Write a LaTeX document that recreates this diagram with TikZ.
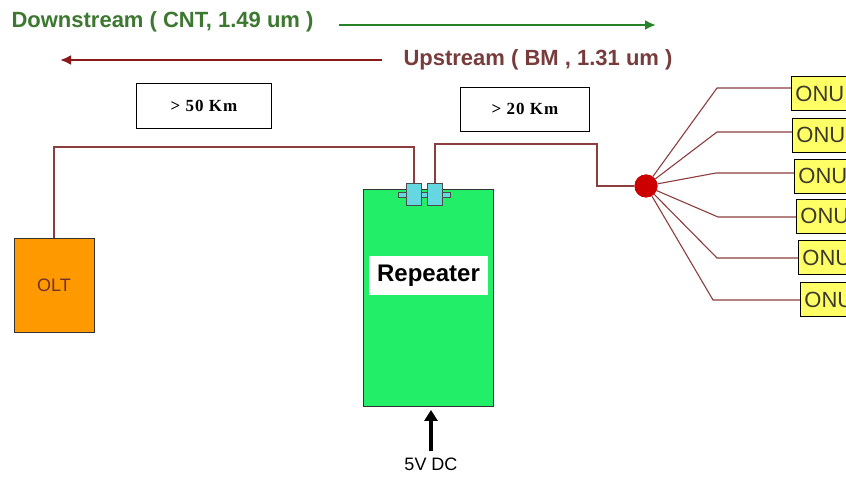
\documentclass[tikz,border=0pt]{standalone}
\usepackage{fontspec}
\setmainfont{Liberation Sans}
\newfontfamily\kmfont[LetterSpace=6]{Liberation Serif}
\usetikzlibrary{positioning,arrows.meta}

\definecolor{fibreline}{RGB}{140,62,62}
\definecolor{downgreen}{RGB}{60,120,48}
\definecolor{downarrow}{RGB}{40,130,40}
\definecolor{uptext}{RGB}{120,60,60}
\definecolor{uparrow}{RGB}{140,25,25}
\definecolor{oltorange}{RGB}{255,153,0}
\definecolor{repgreen}{RGB}{34,238,104}
\definecolor{onuyellow}{RGB}{255,255,102}
\definecolor{portcyan}{RGB}{100,215,225}

\begin{document}
\begin{tikzpicture}[x=1pt,y=-1pt,
    fibre/.style={draw=fibreline, line width=1.1pt},
    lenbox/.style={draw=black, fill=white, line width=0.9pt, font=\kmfont\bfseries\fontsize{17}{17}\selectfont},
    onu/.style={draw=black, fill=onuyellow, line width=0.9pt, anchor=west, minimum height=34,
      text width=70, inner xsep=4, align=left, font=\fontsize{22}{22}\selectfont, text=black!75!olive},
    port/.style={draw=black!70, fill=portcyan, line width=0.7pt, minimum width=15, minimum height=22, inner sep=0},
    flow/.style={line width=2.8pt, -{Latex[length=11pt,width=10pt]}}]
  \clip (0,0) rectangle (846,478);
  \fill[white] (0,0) rectangle (846,478);

  % traffic directions
  \node[anchor=west, text=downgreen, font=\bfseries\fontsize{22}{22}\selectfont] (down) at (8,22) {Downstream ( CNT, 1.49 um )};
  \coordinate (downend) at (656,25);
  \draw[flow, draw=downarrow] (down.east |- downend) ++(22,0) coordinate (downstart) -- (downend);
  \node[anchor=west, text=uptext, font=\bfseries\fontsize{22}{22}\selectfont] (up) at (400,60) {Upstream ( BM , 1.31 um )};
  \coordinate (upend) at (60,60);
  \draw[flow, draw=uparrow] ([xshift=-18]up.west) -- (upend);

  % distances
  \node[lenbox, minimum width=135, minimum height=45] (km50) at (204,106) {> 50 Km};
  \node[lenbox, minimum width=129, minimum height=44] (km20) at (525,109) {> 20 Km};

  % OLT and repeater
  \node[draw=black!80, fill=oltorange, line width=0.9pt, minimum width=80, minimum height=94,
    text=fibreline!80!black, font=\fontsize{18}{18}\selectfont] (olt) at (54,285) {OLT};
  \node[draw=black!80, fill=repgreen, line width=0.9pt, minimum width=130, minimum height=217] (rep) at (428,298) {};
  \node[fill=white, minimum width=119, minimum height=39, inner sep=0,
    font=\bfseries\fontsize{24}{24}\selectfont] (replabel) at (428.5,275.5) {Repeater};

  % fibre ports
  \node[draw=black!70, fill=portcyan, line width=0.7pt, minimum width=52, minimum height=5, inner sep=0] (bar) at (424,194.5) {};
  \node[port] (p1) at (414,194.5) {};
  \node[port] (p2) at (435,194.5) {};

  % splitter
  \node[circle, fill=red!80!black, minimum size=23, inner sep=0] (split) at (646,186) {};
  \coordinate (bend) at (597,144);
  \draw[fibre] (olt.north) |- (0,147 -| p1.north) -- (p1.north);
  \draw[fibre] (p2.north) |- (bend) |- (split.west);

  % ONUs
  \foreach \i/\y/\bx/\ly/\lx in {1/93.5/791/88/717, 2/135/792/132/717, 3/176/794/173/716,
                                 4/216/796/217/718, 5/257.5/798/258/717, 6/299.5/800/300/713} {
    \node[onu] (onu\i) at (\bx,\y) {ONU};
    \coordinate (b\i) at (\lx,\ly);
    \draw[fibre] (split) -- (b\i) -- (b\i -| onu\i.west);
  }
  \node[circle, fill=red!80!black, minimum size=23, inner sep=0] at (split) {};

  % power
  \node[font=\fontsize{18}{18}\selectfont] (dc) at (431,464) {5V DC};
  \draw[line width=3.5pt, -{Triangle[length=11pt,width=13pt]}, shorten <=3pt, shorten >=3pt] (dc.north) -- (dc.north |- rep.south);
\end{tikzpicture}
\end{document}
